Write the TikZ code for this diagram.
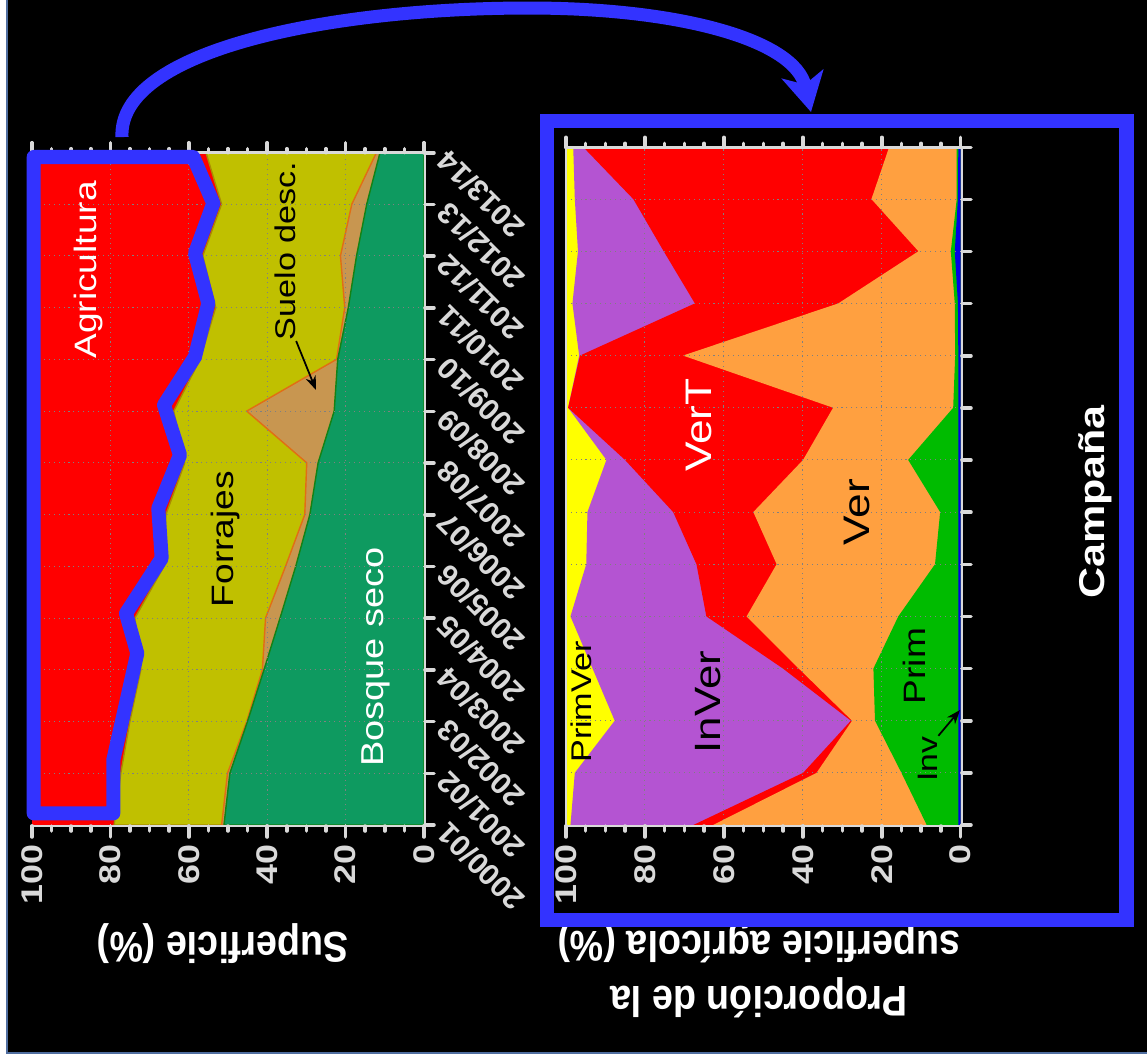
\documentclass[tikz,border=0pt]{standalone}
\usepackage{fontspec}
\setmainfont{Liberation Sans}
\newfontfamily\tallfont[FakeStretch=1.2]{Liberation Sans}
\newfontfamily\flatfont[FakeStretch=0.88]{Liberation Sans}
\usetikzlibrary{arrows.meta}

\definecolor{agri}{RGB}{255,0,0}
\definecolor{forraje}{RGB}{192,192,0}
\definecolor{forrajeedge}{RGB}{170,140,0}
\definecolor{suelo}{RGB}{200,150,80}
\definecolor{sueloedge}{RGB}{225,110,20}
\definecolor{bosque}{RGB}{14,154,96}
\definecolor{bosqueedge}{RGB}{20,130,20}
\definecolor{primver}{RGB}{255,255,0}
\definecolor{inver}{RGB}{180,84,210}
\definecolor{vert}{RGB}{255,0,0}
\definecolor{ver}{RGB}{255,160,64}
\definecolor{prim}{RGB}{0,187,0}
\definecolor{inv}{RGB}{0,0,230}
\definecolor{markblue}{RGB}{51,51,255}
\definecolor{axisgray}{RGB}{217,217,217}
\definecolor{framecol}{RGB}{80,110,160}

\tikzset{
  gridline/.style={draw=gray, line width=0.3pt, dash pattern=on 0.3pt off 1.1pt},
  axisline/.style={draw=axisgray, line width=0.8pt},
  tickmark/.style={draw=axisgray, line width=1pt, line cap=round},
  ticklbl/.style={rotate=90, anchor=east, inner sep=0pt, text=axisgray,
    font={\tallfont\bfseries\fontsize{8.5pt}{10pt}\selectfont}},
  yearlbl/.style={rotate=135, anchor=east, inner sep=0pt, text=axisgray,
    font={\bfseries\fontsize{8.5pt}{10pt}\selectfont}},
  areaname/.style={rotate=90, inner sep=0pt},
  marker/.style={draw=markblue, line width=4pt},
  pointer/.style={draw=black, line width=0.5pt, -{Stealth[length=4pt,width=3pt]}},
  axistitle/.style={text=white, font={\flatfont\bfseries\fontsize{12.2pt}{15.5pt}\selectfont}}
}

\begin{document}
\begin{tikzpicture}[x=0.01cm, y=-0.01cm]
\useasboundingbox (0,0) rectangle (1147,1059);
\fill[white] (0,0) rectangle (1147,1059);
\fill[black] (7,0) rectangle (1147,1053);
\draw[framecol, line width=0.6pt] (7,0) -- (7,1053) -- (1147,1053);

% land use, left chart
\begin{scope}[shift={(424,825)}, x={(-0.0392cm,0cm)}, y={(0cm,0.5171cm)}]
  \fill[agri] (0,0) rectangle (100,13);
  \filldraw[fill=forraje, draw=forrajeedge, line width=0.4pt] (0,0) -- plot coordinates {(79,0) (77.3,1) (75,2) (72.2,3) (73.7,4) (66.3,5) (65.8,6) (61,7) (63.8,8) (57.1,9) (53.1,10) (56.4,11) (51.6,12) (55.6,13)} -- (0,13) -- cycle;
  \filldraw[fill=suelo, draw=sueloedge, line width=0.4pt] (0,0) -- plot coordinates {(51.6,0) (50.1,1) (45.2,2) (41.2,3) (40.4,4) (35.3,5) (30.4,6) (29.9,7) (45.2,8) (22.3,9) (20.2,10) (21.3,11) (18.4,12) (12.1,13)} -- (0,13) -- cycle;
  \filldraw[fill=bosque, draw=bosqueedge, line width=0.4pt] (0,0) -- plot coordinates {(51,0) (49.5,1) (45,2) (40.8,3) (36.7,4) (32.7,5) (29.1,6) (27,7) (22.9,8) (22,9) (19.3,10) (17.2,11) (14.6,12) (11.2,13)} -- (0,13) -- cycle;
  \foreach \v in {20,40,60,80} \draw[gridline] (\v,0) -- (\v,13);
  \foreach \i in {1,...,12} \draw[gridline] (0,\i) -- (100,\i);
\end{scope}

% crop types, right chart
\begin{scope}[shift={(960.7,825)}, x={(-0.03947cm,0cm)}, y={(0cm,0.5213cm)}]
  \fill[primver] (0,0) rectangle (100,13);
  \fill[inver] (0,0) -- plot coordinates {(98.8,0) (97.7,1) (87.6,2) (93.2,3) (98.8,4) (94.8,5) (94.5,6) (89.7,7) (99.4,8) (96.6,9) (98.3,10) (96.9,11) (97.7,12) (98.1,13)} -- (0,13) -- cycle;
  \fill[vert] (0,0) -- plot coordinates {(67.7,0) (39.9,1) (27.8,2) (45,3) (64.4,4) (66.9,5) (72.8,6) (85,7) (99.4,8) (96.4,9) (67.3,10) (75.2,11) (82.9,12) (95.6,13)} -- (0,13) -- cycle;
  \fill[ver] (0,0) -- plot coordinates {(62.7,0) (36.5,1) (27.5,2) (41,3) (54.2,4) (46.6,5) (52.5,6) (39.9,7) (32.3,8) (70.3,9) (31,10) (10.7,11) (22.6,12) (18.1,13)} -- (0,13) -- cycle;
  \fill[prim] (0,0) -- plot coordinates {(8.6,0) (15,1) (21.7,2) (22.1,3) (15.8,4) (6.5,5) (5.2,6) (13.3,7) (1.9,8) (1.4,9) (1.5,10) (2.5,11) (1,12) (1,13)} -- (0,13) -- cycle;
  \fill[inv] (0,0) -- plot coordinates {(0.6,0) (0.6,1) (0.6,2) (0.6,3) (0.6,4) (0.6,5) (0.6,6) (0.6,7) (0.6,8) (0.6,9) (0.7,10) (1.5,11) (0.7,12) (0.6,13)} -- (0,13) -- cycle;
  \foreach \v in {20,40,60,80} \draw[gridline] (\v,0) -- (\v,13);
  \foreach \i in {1,...,12} \draw[gridline] (0,\i) -- (100,\i);
\end{scope}

% axes
\draw[axisline] (32,152.7) -- (425,152.7) -- (425,826) -- (32,826);
\draw[axisline] (566,826) -- (566,147.3) -- (962,147.3) -- (962,826) -- cycle;
\foreach \v in {0,5,...,100} {
  \draw[tickmark] ({424-3.92*\v},152.7) -- ++(0,-4);
  \draw[tickmark] ({424-3.92*\v},826) -- ++(0,5);
  \draw[tickmark] ({960.7-3.947*\v},147.3) -- ++(0,-4);
  \draw[tickmark] ({960.7-3.947*\v},826) -- ++(0,5);
}
\foreach \v in {0,20,...,100} {
  \draw[tickmark] ({424-3.92*\v},152.7) -- ++(0,-10);
  \draw[tickmark] ({424-3.92*\v},826) -- ++(0,11);
  \draw[tickmark] ({960.7-3.947*\v},147.3) -- ++(0,-10);
  \draw[tickmark] ({960.7-3.947*\v},826) -- ++(0,11);
  \node[ticklbl] (usoval\v) at ({424-3.92*\v},844) {\v};
  \node[ticklbl] (cultval\v) at ({960.7-3.947*\v},844) {\v};
}
\foreach \i in {0,...,13} {
  \draw[tickmark] (425,{825-51.71*\i}) -- ++(9,0);
  \draw[tickmark] (962,{825-52.13*\i}) -- ++(9,0);
}
\foreach \a/\b [count=\i from 0] in {2000/01,2001/02,2002/03,2003/04,2004/05,2005/06,2006/07,2007/08,2008/09,2009/10,2010/11,2011/12,2012/13,2013/14}
  \node[yearlbl] (yr\i) at (442,{828-51.71*\i}) {\a/\b};

% series names
\node[areaname, text=white, font={\tallfont\fontsize{8.8pt}{10pt}\selectfont}] (agri) at (88,270) {Agricultura};
\node[areaname, font={\tallfont\fontsize{8.8pt}{10pt}\selectfont}] (forr) at (225,539) {Forrajes};
\node[areaname, font={\tallfont\fontsize{8.1pt}{10pt}\selectfont}] (suelo) at (285,251) {Suelo desc.};
\node[areaname, text=white, font={\tallfont\fontsize{9pt}{10pt}\selectfont}] (bosque) at (376,657) {Bosque seco};
\node[areaname, font={\tallfont\fontsize{8.1pt}{10pt}\selectfont}] (primver) at (581,702) {PrimVer};
\node[areaname, font={\tallfont\fontsize{10.4pt}{12pt}\selectfont}] (inver) at (708,702) {InVer};
\node[areaname, text=white, font={\tallfont\fontsize{10.5pt}{12pt}\selectfont}] (vert) at (699,425) {VerT};
\node[areaname, font={\tallfont\fontsize{10.5pt}{12pt}\selectfont}] (ver) at (857,512) {Ver};
\node[areaname, font={\tallfont\fontsize{8.8pt}{10pt}\selectfont}] (prim) at (914,666) {Prim};
\node[areaname, font={\tallfont\fontsize{8pt}{10pt}\selectfont}] (inv) at (928,759) {Inv};
\coordinate (suelotip) at (316,390);
\coordinate (invtip) at (960,710);
\draw[pointer] (suelo.south west) -- (suelotip);
\draw[pointer] (inv.south east) -- (invtip);

% axis titles
\node[axistitle, rotate=180] (usotitle) at (223,944) {Superficie (\%)};
\node[axistitle, rotate=180, align=center] (culttitle) at (759,970) {Proporción de la\\superficie agrícola (\%)};
\node[rotate=90, text=white, font={\tallfont\bfseries\fontsize{10.2pt}{12pt}\selectfont}] (campana) at (1095,502) {Campaña};

% blue marks
\draw[marker, line join=round] (33.7,157) -- (193.3,157) -- (213.3,203.3) -- (195,253.3) -- (208.3,303.3) -- (195,356.7) -- (164,405) -- (180,455) -- (158.3,508.3) -- (161.7,558.3) -- (126,613.3) -- (137.3,653.3) -- (113.3,760) -- (113.3,813.3) -- (33.7,813.3) -- cycle;
\draw[marker] (547,121) rectangle (1126.5,920);
\coordinate (arrowtail) at (122,137);
\coordinate (arrowhead) at (811,112);
\draw[marker, line width=3.7pt, -{Stealth[length=11pt,width=12pt,inset=3pt]}] (arrowtail) .. controls (118,50) and (330,8) .. (529,8) .. controls (680,8) and (795,40) .. (arrowhead);
\end{tikzpicture}
\end{document}
